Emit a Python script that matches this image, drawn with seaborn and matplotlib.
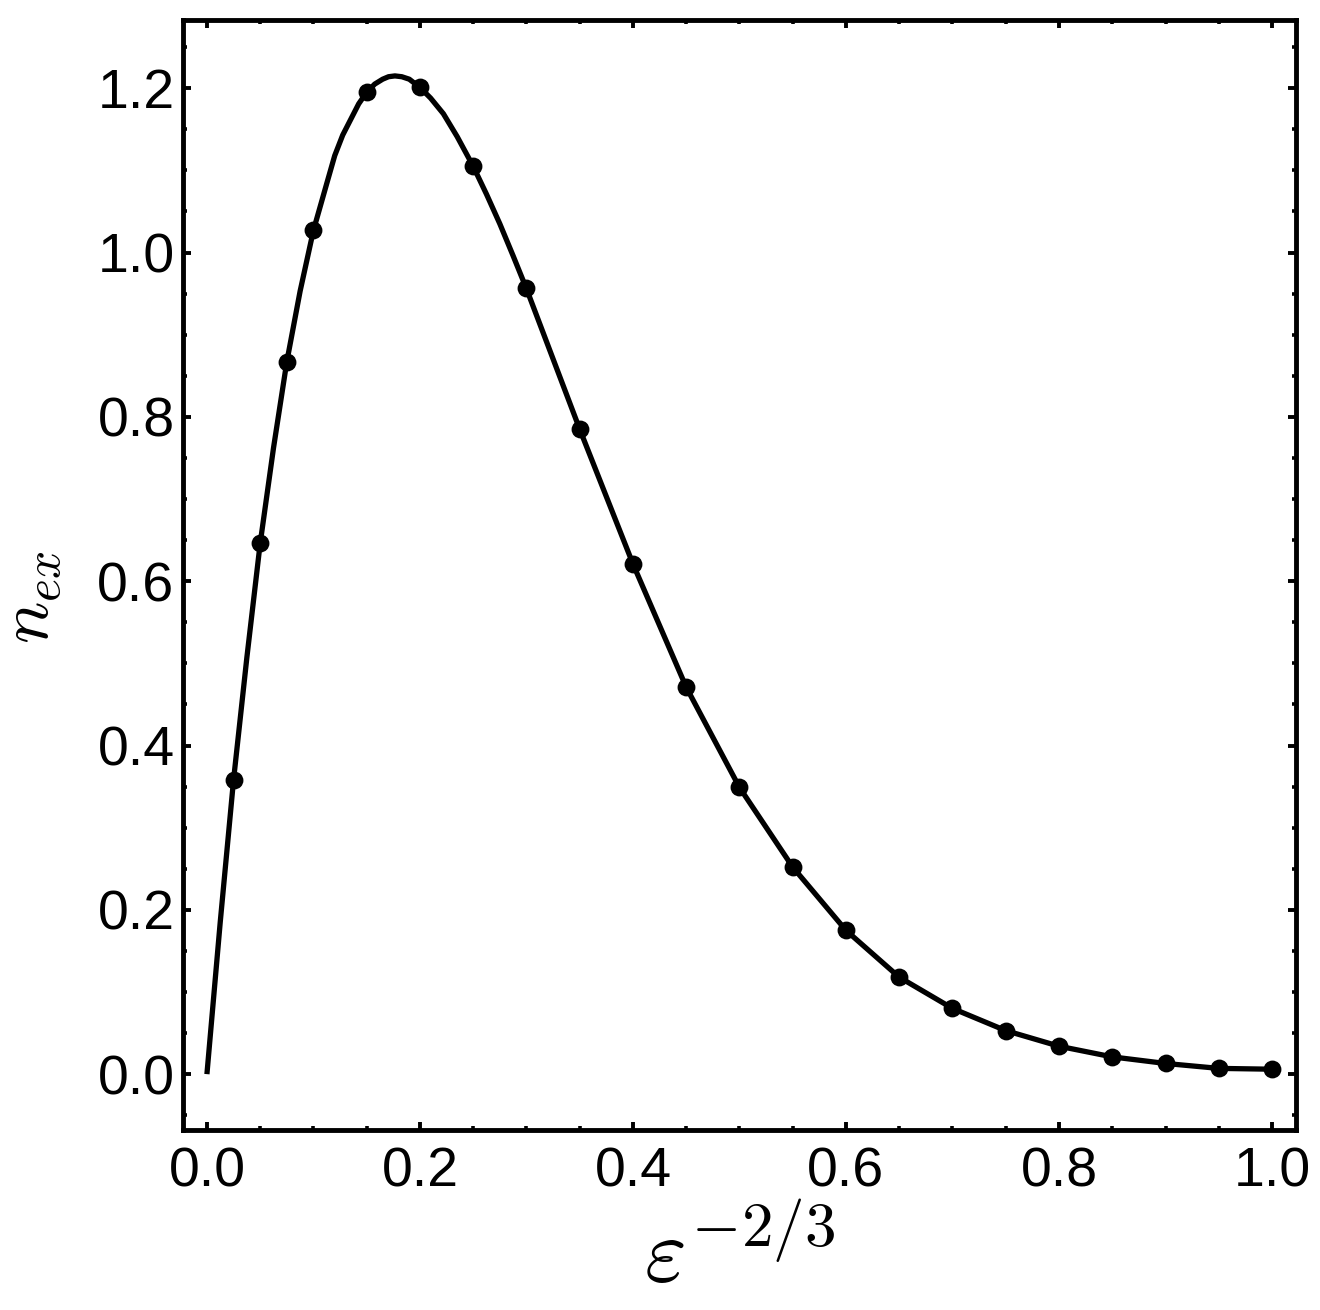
import matplotlib
matplotlib.use("Agg")
import matplotlib.pyplot as plt
import seaborn as sns
from matplotlib.ticker import MultipleLocator, FormatStrFormatter

# 1. smooth curve
curve_x = [0.0, 0.0125, 0.025, 0.0375, 0.05, 0.0625, 0.075, 0.0875, 0.1, 0.1125, 0.12,
           0.1275, 0.135, 0.1425, 0.15, 0.1575, 0.165, 0.1705, 0.1765, 0.183, 0.19, 0.2,
           0.21, 0.222, 0.235, 0.25, 0.2625, 0.275, 0.2875, 0.3, 0.35, 0.4, 0.45, 0.5,
           0.55, 0.6, 0.65, 0.7, 0.75, 0.8, 0.85, 0.9, 0.95, 1.0]
curve_y = [0.0, 0.185, 0.358, 0.507, 0.646, 0.762, 0.867, 0.953, 1.027, 1.084, 1.118,
           1.143, 1.162, 1.181, 1.195, 1.205, 1.211, 1.214, 1.215, 1.214, 1.211, 1.201,
           1.188, 1.169, 1.141, 1.105, 1.071, 1.035, 0.996, 0.956, 0.785, 0.621, 0.471, 0.349,
           0.252, 0.175, 0.118, 0.080, 0.053, 0.034, 0.021, 0.013, 0.007, 0.006]

# 2. the dots
pts_x = [0.025, 0.05, 0.075, 0.1, 0.15, 0.2, 0.25, 0.3, 0.35, 0.4, 0.45, 0.5,
         0.55, 0.6, 0.65, 0.7, 0.75, 0.8, 0.85, 0.9, 0.95, 1.0]
pts_y = [0.358, 0.646, 0.867, 1.027, 1.195, 1.201, 1.105, 0.957, 0.785, 0.621, 0.471, 0.349,
         0.252, 0.175, 0.118, 0.080, 0.053, 0.034, 0.021, 0.013, 0.007, 0.006]

sns.set_theme(style="ticks")
plt.rcParams["font.family"] = ["Liberation Sans", "DejaVu Sans"]
plt.rcParams["mathtext.fontset"] = "cm"
plt.rcParams["axes.labelcolor"] = "black"

fig = plt.figure(figsize=(13.2, 13.1), dpi=100)
ax = fig.add_axes([0.1386, 0.1374, 0.8432, 0.8473])

sns.lineplot(x=curve_x, y=curve_y, color="black", linewidth=3.8, sort=False,
             solid_capstyle="butt", solid_joinstyle="round", ax=ax)
sns.scatterplot(x=pts_x, y=pts_y, color="black", s=165, linewidth=0, zorder=3, ax=ax)

ax.set_xlim(-0.0225, 1.0225)
ax.set_ylim(-0.068, 1.283)

for axis in (ax.xaxis, ax.yaxis):
    axis.set_major_locator(MultipleLocator(0.2))
    axis.set_minor_locator(MultipleLocator(0.05))
    axis.set_major_formatter(FormatStrFormatter("%.1f"))

ax.tick_params(which="both", direction="in", top=True, right=True, colors="black")
ax.tick_params(which="major", length=5.5, width=2.8, labelsize=40)
ax.tick_params(which="minor", length=3, width=2.6)
ax.tick_params(axis="x", which="major", pad=12)
ax.tick_params(axis="y", which="major", pad=6)

for sp in ax.spines.values():
    sp.set_linewidth(3.5)
    sp.set_color("black")

ax.set_xlabel(r"$\varepsilon^{-2/3}$", fontsize=65, labelpad=10, color="black")
ax.set_ylabel(r"$n_{ex}$", fontsize=51, color="black")
ax.yaxis.set_label_coords(-0.107, 0.48)

fig.savefig("out.png", dpi=100, facecolor="white")
